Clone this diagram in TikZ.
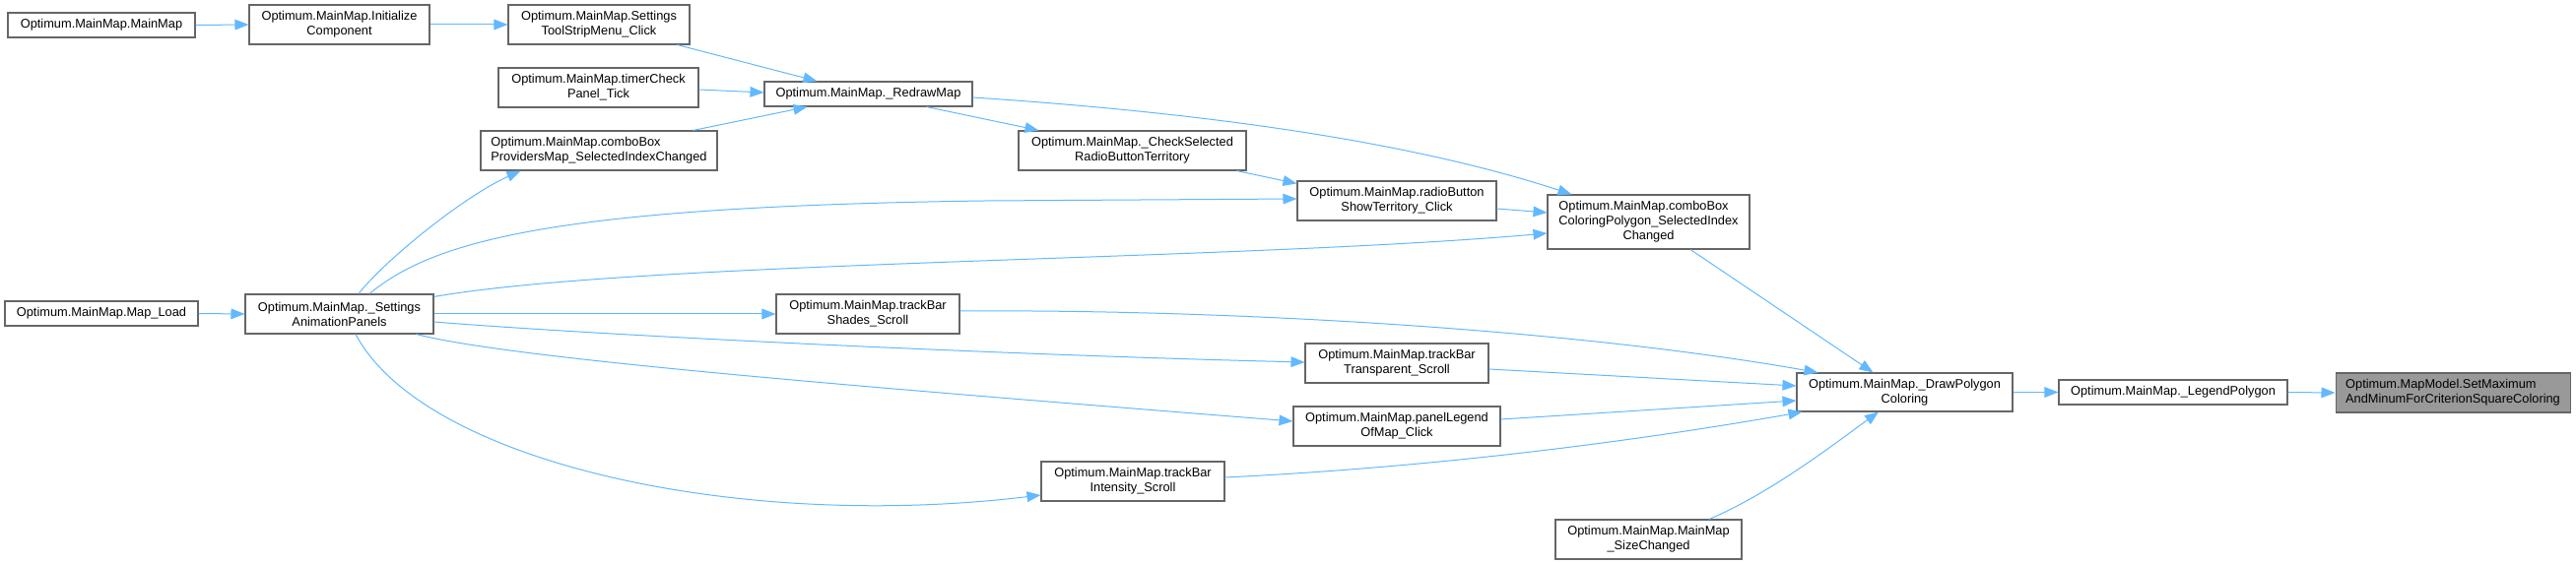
\documentclass[tikz,border=0pt]{standalone}
\usepackage{fontspec}
\setmainfont{Liberation Sans}
\usetikzlibrary{arrows.meta,calc}
\definecolor{edgec}{HTML}{63B8FF}
\definecolor{boxc}{HTML}{666666}
\definecolor{hlc}{HTML}{999999}
\tikzset{
  box/.style={draw=boxc, line width=0.8pt, fill=white, inner sep=0pt,
    font=\fontsize{9.6}{11.3}\selectfont, align=center},
  edge/.style={draw=edgec, line width=0.75pt, -{Triangle[length=10.5pt,width=8pt]}},
}
\newcommand\bx[7][]{\node[box,#1,minimum width={(#5-#3)*0.75pt},minimum height={(#6-#4)*0.75pt}] (#2) at ({(#3+#5)/2},{(#4+#6)/2}) {#7};}
\begin{document}
\begin{tikzpicture}[x=0.75pt,y=-0.75pt]
\useasboundingbox (0,0) rectangle (2615,573);
\bx{mm}{8}{13}{198}{38}{Optimum.MainMap.MainMap}
\bx{ic}{253}{5}{436}{45}{Optimum.MainMap.Initialize\\Component}
\bx{st}{516}{5}{700}{45}{Optimum.MainMap.Settings\\ToolStripMenu\_Click}
\bx{tc}{506}{69}{709}{109}{Optimum.MainMap.timerCheck\\Panel\_Tick}
\bx[align=left]{cp}{488}{133}{728}{173}{Optimum.MainMap.comboBox\\ProvidersMap\_SelectedIndexChanged}
\bx{rm}{776}{83}{987}{108}{Optimum.MainMap.\_RedrawMap}
\bx{cs}{1034}{133}{1265}{173}{Optimum.MainMap.\_CheckSelected\\RadioButtonTerritory}
\bx{rb}{1317}{184}{1519}{224}{Optimum.MainMap.radioButton\\ShowTerritory\_Click}
\bx{cc}{1571}{198}{1776}{253}{\begin{tabular}{@{}l@{}}Optimum.MainMap.comboBox\\ColoringPolygon\_SelectedIndex\\\multicolumn{1}{@{}c@{}}{Changed}\end{tabular}}
\bx{ml}{5}{306}{201}{331}{Optimum.MainMap.Map\_Load}
\bx{sa}{249}{299}{440}{339}{Optimum.MainMap.\_Settings\\AnimationPanels}
\bx{ts}{788}{299}{974}{339}{Optimum.MainMap.trackBar\\Shades\_Scroll}
\bx{tt}{1325}{349}{1511}{389}{Optimum.MainMap.trackBar\\Transparent\_Scroll}
\bx{pl}{1313}{413}{1523}{453}{Optimum.MainMap.panelLegend\\OfMap\_Click}
\bx{ti}{1057}{469}{1243}{509}{Optimum.MainMap.trackBar\\Intensity\_Scroll}
\bx{dp}{1824}{379}{2043}{418}{Optimum.MainMap.\_DrawPolygon\\Coloring}
\bx{ms}{1579}{528}{1768}{568}{Optimum.MainMap.MainMap\\\_SizeChanged}
\bx{lp}{2090}{386}{2322}{411}{Optimum.MainMap.\_LegendPolygon}
\bx[fill=hlc,align=left]{sm}{2371}{379}{2609}{419}{Optimum.MapModel.SetMaximum\\AndMinumForCriterionSquareColoring}

\draw[edge] (mm.east) -- (ic.west);
\draw[edge] (ic.east) -- (st.west);
\draw[edge] ($(st.south east)+(-13,0)$) -- ($(rm.north west)+(54,0)$);
\draw[edge] ($(tc.east)+(0,2)$) -- ($(rm.west)+(0,-1.5)$);
\draw[edge] ($(cp.north east)+(-25,0)$) -- ($(rm.south west)+(44,0)$);
\draw[edge] ($(rm.south east)+(-47,0)$) -- ($(cs.north west)+(21,0)$);
\draw[edge] ($(rm.east)+(0,3.5)$) .. controls (1200,113) and (1420,140) .. ($(cc.north west)+(25,0)$);
\draw[edge] ($(cs.south east)+(-10,0)$) -- ($(rb.north west)+(0,3)$);
\draw[edge] ($(rb.east)+(0,8)$) -- ($(cc.west)+(0,-9.5)$);
\draw[edge] ($(cc.south)+(42.5,0)$) -- ($(dp.north west)+(78,0)$);
\draw[edge] (dp.east) -- (lp.west);
\draw[edge] (lp.east) -- (sm.west);
\draw[edge] (ml.east) -- (sa.west);
\draw[edge] ($(sa.north)+(19.5,0)$) .. controls (390,265) and (470,200) .. ($(cp.south west)+(41,0)$);
\draw[edge] ($(sa.north)+(30.5,0)$) .. controls (440,245) and (560,210) .. (1000,204) -- ($(rb.west)+(0,-2)$);
\draw[edge] ($(sa.north east)+(0,3)$) .. controls (650,265) and (1250,265) .. ($(cc.west)+(0,11.5)$);
\draw[edge] (sa.east) -- (ts.west);
\draw[edge] ($(ts.east)+(0,-3)$) .. controls (1250,314) and (1600,335) .. ($(dp.north west)+(22,0)$);
\draw[edge] ($(sa.east)+(0,8)$) .. controls (600,340) and (1000,360) .. ($(tt.west)+(0,-1)$);
\draw[edge] ($(tt.east)+(0,6)$) -- ($(dp.west)+(0,-6.5)$);
\draw[edge] ($(sa.south east)+(-18,0)$) .. controls (520,365) and (900,395) .. ($(pl.west)+(0,-5)$);
\draw[edge] ($(pl.east)+(0,-7)$) -- ($(dp.west)+(0,8.5)$);
\draw[edge] ($(sa.south)+(16.5,0)$) .. controls (430,470) and (750,540) .. ($(ti.west)+(0,14)$);
\draw[edge] ($(ti.east)+(0,-4)$) .. controls (1450,475) and (1650,450) .. ($(dp.south west)+(6,0)$);
\draw[edge] ($(ms.north)+(61.5,0)$) .. controls (1800,500) and (1870,445) .. ($(dp.south)+(-26.5,0)$);
\end{tikzpicture}
\end{document}
